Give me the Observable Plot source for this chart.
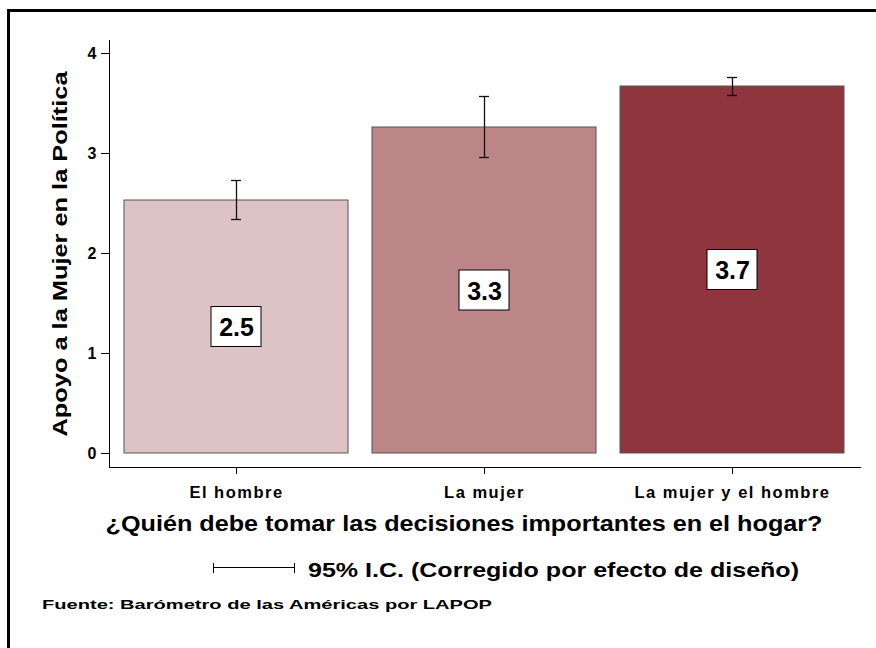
<!DOCTYPE html>
<html>
<head>
<meta charset="utf-8">
<script src="https://cdn.jsdelivr.net/npm/d3@7"></script>
<script src="https://cdn.jsdelivr.net/npm/@observablehq/plot@0.6"></script>
<style>
  html, body { margin: 0; padding: 0; background: #fff; }
  body { font-family: "Liberation Sans", Arial, sans-serif; }
  #wrap { position: relative; width: 876px; height: 648px; overflow: hidden; background: #fff; }
  #border { position: absolute; left: 7px; top: 9px; width: 900px; height: 700px;
            border-top: 3px solid #000; border-left: 3px solid #000; }
  #chart { position: absolute; left: 0; top: 0; }
  #below { position: absolute; left: 0; top: 548px; }
  g[aria-label="x-axis tick label"] text { letter-spacing: 1.5px; }
</style>
</head>
<body>
<div id="wrap">
  <div id="border"></div>
  <div id="chart"></div>
  <div id="below"></div>
</div>
<script>
// ---- data ----
const categories = ["El hombre", "La mujer", "La mujer y el hombre"];
const means = [2.53, 3.26, 3.67];
const ciLow = [2.34, 2.96, 3.58];
const ciHigh = [2.73, 3.57, 3.76];
const valueLabels = ["2.5", "3.3", "3.7"];
const barColors = ["#dec3c6", "#bc8588", "#8e353e"];
const yTicks = [0, 1, 2, 3, 4];
const yTitle = "Apoyo a la Mujer en la Política";
const xTitle = "¿Quién debe tomar las decisiones importantes en el hogar?";
const legendText = "95% I.C. (Corregido por efecto de diseño)";
const sourceText = "Fuente: Barómetro de las Américas por LAPOP";

const data = categories.map((c, i) => ({
  cat: c, mean: means[i], lo: ciLow[i], hi: ciHigh[i], label: valueLabels[i]
}));

const font = "Liberation Sans, Arial, sans-serif";

const chart = Plot.plot({
  width: 876,
  height: 548,
  marginLeft: 109,
  marginRight: 16,
  marginTop: 40,
  marginBottom: 81,
  style: { fontFamily: font, background: "transparent", color: "#000" },
  x: { domain: categories, paddingInner: 0.095, paddingOuter: 0.06, label: null },
  y: { domain: [-0.14, 4.13], label: null },
  color: { domain: categories, range: barColors },
  marks: [
    Plot.barY(data, { x: "cat", y1: 0, y2: "mean", fill: "cat", stroke: "#555", strokeWidth: 1 }),
    Plot.ruleX(data, { x: "cat", y1: "lo", y2: "hi", stroke: "#111", strokeWidth: 1.3 }),
    Plot.tickY(data, { x: "cat", y: "lo", insetLeft: 107, insetRight: 107, stroke: "#111", strokeWidth: 1.3 }),
    Plot.tickY(data, { x: "cat", y: "hi", insetLeft: 107, insetRight: 107, stroke: "#111", strokeWidth: 1.3 }),
    Plot.barY(data, { x: "cat", y1: d => d.mean / 2 - 0.2, y2: d => d.mean / 2 + 0.2,
                      insetLeft: 87, insetRight: 87, fill: "white", stroke: "#000", strokeWidth: 1 }),
    Plot.text(data, { x: "cat", y: d => d.mean / 2, text: "label", fontSize: 25, fontWeight: "bold",
                      fill: "#000", textAnchor: "middle", lineAnchor: "middle", dy: 1 }),
    Plot.axisY({ ticks: yTicks, tickSize: 8, tickPadding: 5, fontSize: 16, fontWeight: "bold", label: null, tickFormat: d3.format("d") }),
    Plot.axisX({ tickSize: 7, tickPadding: 12, fontSize: 16.5, fontWeight: "bold", label: null }),
    Plot.frame({ anchor: "left", stroke: "#000" }),
    Plot.frame({ anchor: "bottom", stroke: "#000" }),
    Plot.text([yTitle], { text: d => d, frameAnchor: "left", dx: -49, rotate: -90, fontSize: 21,
                          fontWeight: "bold", textAnchor: "middle", lineAnchor: "middle" }),
    Plot.text([xTitle], { text: d => d, frameAnchor: "bottom", dx: -21, dy: 56, fontSize: 22,
                          fontWeight: "bold", textAnchor: "middle", lineAnchor: "middle" })
  ]
});
document.getElementById("chart").appendChild(chart);

// stretch the titles to the reference widths
function stretch(content, len) {
  chart.querySelectorAll("text").forEach(t => {
    if (t.textContent === content) {
      t.setAttribute("textLength", len);
      t.setAttribute("lengthAdjust", "spacingAndGlyphs");
    }
  });
}
stretch(yTitle, 365);
stretch(xTitle, 717);

// ---- legend and source below the plot ----
const ns = "http://www.w3.org/2000/svg";
const below = document.createElementNS(ns, "svg");
below.setAttribute("width", 876);
below.setAttribute("height", 100);
below.style.fontFamily = font;
function el(tag, attrs, text) {
  const e = document.createElementNS(ns, tag);
  for (const k in attrs) e.setAttribute(k, attrs[k]);
  if (text) e.textContent = text;
  below.appendChild(e);
  return e;
}
// legend (y offset: 548)
el("line", { x1: 213.5, x2: 294.5, y1: 19.5, y2: 19.5, stroke: "#000", "stroke-width": 1 });
el("line", { x1: 213.5, x2: 213.5, y1: 15, y2: 25, stroke: "#000", "stroke-width": 1 });
el("line", { x1: 294.5, x2: 294.5, y1: 15, y2: 25, stroke: "#000", "stroke-width": 1 });
el("text", { x: 308, y: 29, "font-size": 21, "font-weight": "bold", fill: "#000",
             textLength: 491, lengthAdjust: "spacingAndGlyphs" }, legendText);
el("text", { x: 42, y: 61, "font-size": 13.5, "font-weight": "bold", fill: "#000",
             textLength: 450, lengthAdjust: "spacingAndGlyphs" }, sourceText);
document.getElementById("below").appendChild(below);
</script>
</body>
</html>
